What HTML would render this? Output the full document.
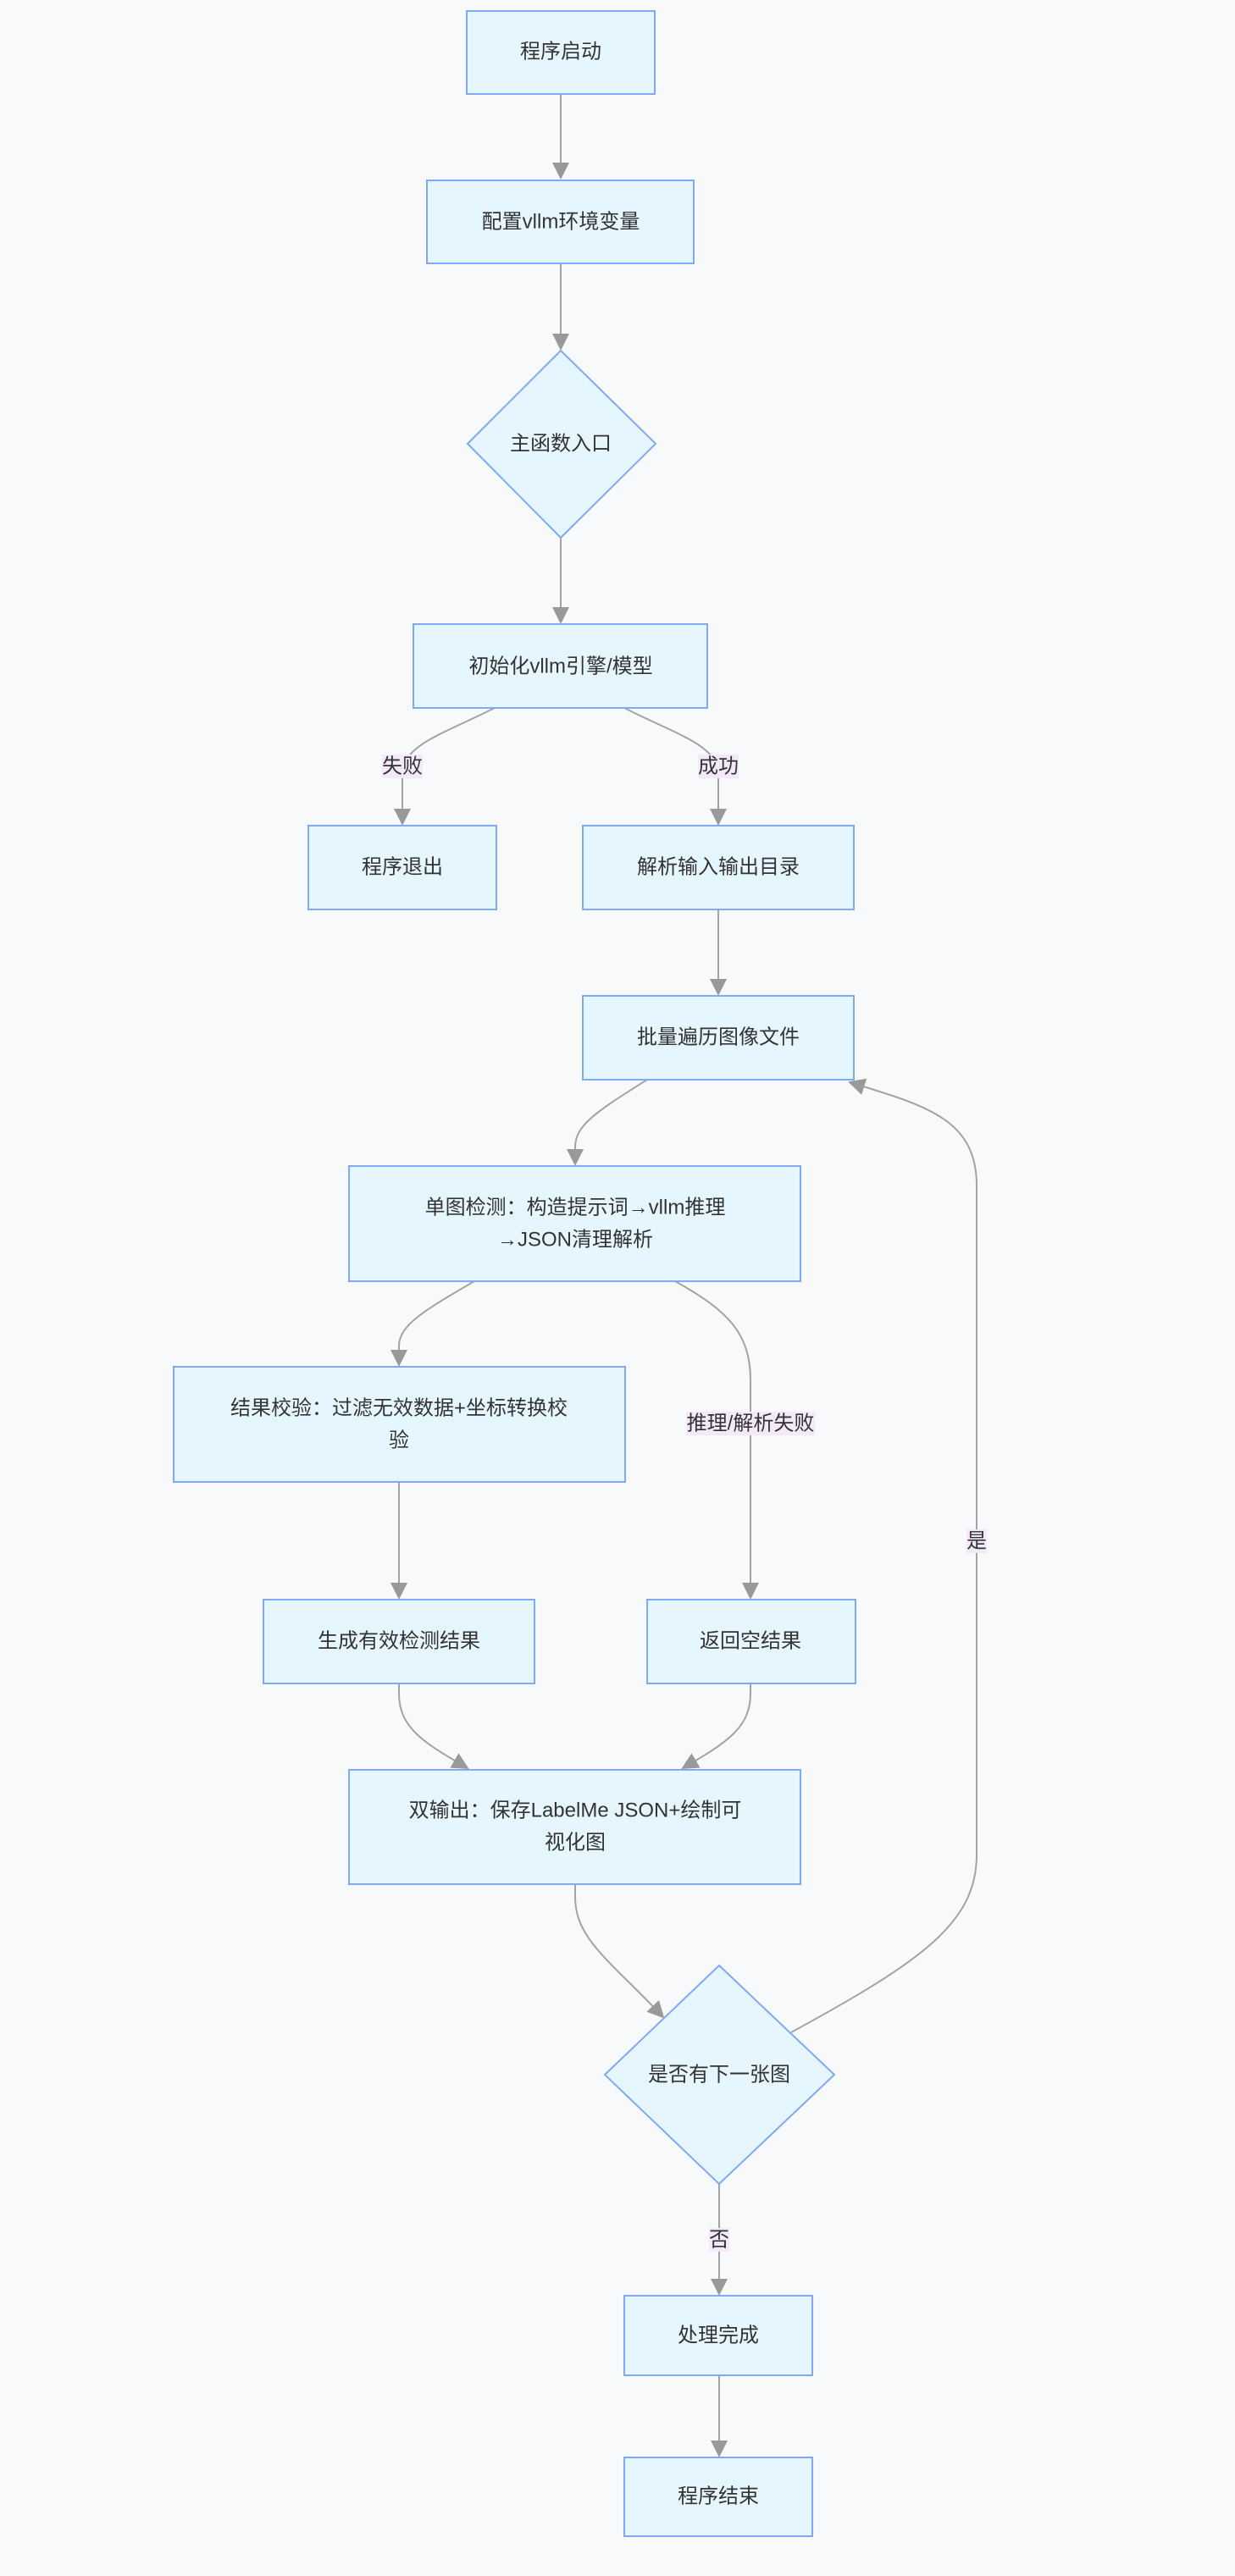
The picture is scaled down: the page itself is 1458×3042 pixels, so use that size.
<!DOCTYPE html>
<html><head><meta charset="utf-8">
<style>
html,body{margin:0;padding:0;background:#f8f9fb;}
svg{display:block;}
text{font-family:"Liberation Sans","Noto Sans CJK SC",sans-serif;font-size:24px;fill:#333;text-anchor:middle;dominant-baseline:central;}
.n{fill:#e6f6ff;stroke:#7eaaf8;stroke-width:2;}
.e{fill:none;stroke:#a3a3a3;stroke-width:2;}
.lb{fill:#f3e9fb;}
</style></head>
<body>
<svg width="1458" height="3042" viewBox="0 0 1458 3042" xmlns="http://www.w3.org/2000/svg">
<defs>
<marker id="b" viewBox="0 0 10 10" refX="9" refY="5" markerWidth="20" markerHeight="20" orient="auto" markerUnits="userSpaceOnUse">
<path d="M0,0 L10,5 L0,10 z" fill="#999"/>
</marker>
</defs>

<!-- edges -->
<path class="e" d="M662,111 L662,210" marker-end="url(#b)"/>
<path class="e" d="M662,311 L662,412" marker-end="url(#b)"/>
<path class="e" d="M662,635 L662,735" marker-end="url(#b)"/>
<path class="e" d="M584,836 C520,868 475,880 475,915 L475,973" marker-end="url(#b)"/>
<path class="e" d="M737,836 C800,868 848,880 848,915 L848,973" marker-end="url(#b)"/>
<path class="e" d="M848,1074 L848,1174" marker-end="url(#b)"/>
<path class="e" d="M764,1275 C700,1315 679,1330 679,1355 L679,1375" marker-end="url(#b)"/>
<path class="e" d="M560,1513 C500,1548 471,1565 471,1590 L471,1612" marker-end="url(#b)"/>
<path class="e" d="M797,1513 C860,1548 886,1575 886,1630 L886,1887" marker-end="url(#b)"/>
<path class="e" d="M471,1750 L471,1887" marker-end="url(#b)"/>
<path class="e" d="M471,1988 L471,2000 C471,2040 500,2058 552,2088" marker-end="url(#b)"/>
<path class="e" d="M886,1988 L886,2000 C886,2040 858,2058 806,2088" marker-end="url(#b)"/>
<path class="e" d="M679,2225 L679,2240 C679,2290 720,2315 783,2382" marker-end="url(#b)"/>
<path class="e" d="M934,2400 C1090,2315 1153,2270 1153,2190 L1153,1400 C1153,1320 1090,1305 1003,1278" marker-end="url(#b)"/>
<path class="e" d="M849,2579 L849,2709" marker-end="url(#b)"/>
<path class="e" d="M849,2805 L849,2900" marker-end="url(#b)"/>

<!-- nodes -->
<rect class="n" x="551" y="13" width="222" height="98"/>
<text x="662" y="61">程序启动</text>

<rect class="n" x="504" y="213" width="315" height="98"/>
<text x="662" y="262">配置vllm环境变量</text>

<polygon class="n" points="662,414 774,524 662,635 552,524"/>
<text x="662" y="524">主函数入口</text>

<rect class="n" x="488" y="737" width="347" height="99"/>
<text x="662" y="787">初始化vllm引擎/模型</text>

<rect class="n" x="364" y="975" width="222" height="99"/>
<text x="475" y="1024">程序退出</text>

<rect class="n" x="688" y="975" width="320" height="99"/>
<text x="848" y="1024">解析输入输出目录</text>

<rect class="n" x="688" y="1176" width="320" height="99"/>
<text x="848" y="1225">批量遍历图像文件</text>

<rect class="n" x="412" y="1377" width="533" height="136"/>
<text x="679" y="1426">单图检测：构造提示词→vllm推理</text>
<text x="679" y="1464">→JSON清理解析</text>

<rect class="n" x="205" y="1614" width="533" height="136"/>
<text x="471" y="1663">结果校验：过滤无效数据+坐标转换校</text>
<text x="471" y="1701">验</text>

<rect class="n" x="311" y="1889" width="320" height="99"/>
<text x="471" y="1938">生成有效检测结果</text>

<rect class="n" x="764" y="1889" width="246" height="99"/>
<text x="886" y="1938">返回空结果</text>

<rect class="n" x="412" y="2090" width="533" height="135"/>
<text x="679" y="2138">双输出：保存LabelMe JSON+绘制可</text>
<text x="679" y="2176">视化图</text>

<polygon class="n" points="849,2321 985,2450 849,2579 714,2450"/>
<text x="849" y="2450">是否有下一张图</text>

<rect class="n" x="737" y="2711" width="222" height="94"/>
<text x="848" y="2758">处理完成</text>

<rect class="n" x="737" y="2902" width="222" height="93"/>
<text x="848" y="2948">程序结束</text>

<!-- edge labels -->
<rect class="lb" x="451" y="891" width="48" height="28"/>
<text x="475" y="905">失败</text>
<rect class="lb" x="824" y="891" width="48" height="28"/>
<text x="848" y="905">成功</text>
<rect class="lb" x="810" y="1667" width="152" height="28"/>
<text x="886" y="1681">推理/解析失败</text>
<rect class="lb" x="1141" y="1806" width="24" height="28"/>
<text x="1153" y="1820">是</text>
<rect class="lb" x="837" y="2631" width="24" height="28"/>
<text x="849" y="2645">否</text>
</svg>
</body></html>
